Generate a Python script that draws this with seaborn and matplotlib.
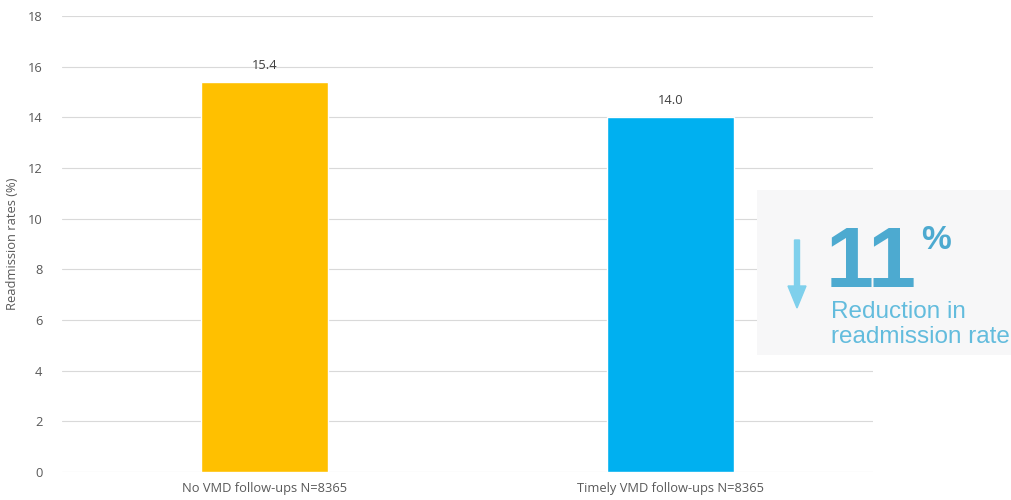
import matplotlib
matplotlib.use("Agg")
import matplotlib.pyplot as plt
import seaborn as sns
import pandas as pd
from matplotlib.patches import Rectangle, FancyArrow

categories = ["No VMD follow-ups N=8365", "Timely VMD follow-ups N=8365"]
values = [15.4, 14.0]
bar_colors = ["#FFC000", "#00B0F0"]
y_ticks = [0, 2, 4, 6, 8, 10, 12, 14, 16, 18]

sns.set_theme(style="white")
plt.rcParams['font.family'] = ['Open Sans', 'DejaVu Sans']

df = pd.DataFrame({"group": categories, "rate": values})

fig = plt.figure(figsize=(10.12, 5.0), dpi=100)
ax = fig.add_axes([62/1012, 28/500, 811/1012, 456/500])

sns.barplot(data=df, x="group", y="rate", hue="group", palette=bar_colors,
            width=0.313, legend=False, ax=ax, saturation=1, zorder=3)

ax.set_ylim(0, 18)
ax.set_yticks(y_ticks)
ax.set_xlim(-0.5, 1.5)
ax.grid(axis="y", color="#D9D9D9", linewidth=0.8, zorder=0)
ax.grid(axis="x", visible=False)
for s in ax.spines.values():
    s.set_visible(False)
ax.tick_params(axis="both", length=0, labelsize=9.3, colors="#595959")
ax.tick_params(axis="x", pad=7)
ax.tick_params(axis="y", pad=14)
ax.set_xlabel("")
ax.set_ylabel("Readmission rates (%)", fontsize=9.3, color="#595959", labelpad=6)

for i, v in enumerate(values):
    ax.text(i, v + 0.4, f"{v:.1f}", ha="center", va="bottom", fontsize=9.3, color="#404040")

# Inset panel
fig.patches.append(Rectangle((757/1012, (500-355)/500), 255/1012, 165/500,
                             transform=fig.transFigure, facecolor="#F7F7F8",
                             edgecolor="none", zorder=5))
arr = FancyArrow(797/1012, (500-240)/500, 0, -(68/500), width=5/1012,
                 head_width=18/1012, head_length=22/500, length_includes_head=True,
                 transform=fig.transFigure, color="#7FD0EC", zorder=6)
fig.patches.append(arr)
fig.text(826/1012, (500-287)/500, "11", fontsize=62, fontweight="bold",
         color="#4DAAD0", ha="left", va="baseline", zorder=7, family=["Liberation Sans", "DejaVu Sans"])
fig.text(921/1012, (500-249)/500, "%", fontsize=24, fontweight="bold",
         color="#4DAAD0", ha="left", va="baseline", zorder=7, family=["Liberation Sans", "DejaVu Sans"])
fig.text(831/1012, (500-318)/500, "Reduction in", fontsize=17.5,
         color="#63BCDD", ha="left", va="baseline", zorder=7, family=["Liberation Sans", "DejaVu Sans"])
fig.text(831/1012, (500-343)/500, "readmission rate", fontsize=17.5,
         color="#63BCDD", ha="left", va="baseline", zorder=7, family=["Liberation Sans", "DejaVu Sans"])

fig.savefig("out.png", dpi=100)
